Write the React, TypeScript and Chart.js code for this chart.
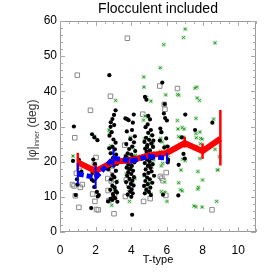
import { useEffect, useRef } from 'react';
import { Chart, registerables } from 'chart.js';

Chart.register(...registerables);

const chartTitle = 'Flocculent included';
const xAxisLabel = 'T-type';
const yLabelMain = '|φ|';
const yLabelSub = 'inner';
const yLabelUnit = ' (deg)';

const xTickValues = [0, 2, 4, 6, 8, 10];
const yTickValues = [0, 10, 20, 30, 40, 50, 60];

// black filled circles: [T-type, |phi|]
const filledPts: [number, number][] = [
  [0.78, 30.0], [0.73, 20.2], [0.88, 10.5], [1.06, 20.5], [1.15, 16.8], [0.95, 15.0], [1.2, 17.2], [0.98, 13.5],
  [1.8, 27.8], [1.93, 26.9], [2.1, 26.1], [1.75, 6.8], [1.87, 20.6], [1.96, 19.3], [1.82, 16.8], [1.88, 14.5],
  [1.92, 12.8], [2.07, 11.4], [2.12, 10.1], [2.18, 10.5], [1.78, 14.9], [2.05, 16.2],
  [2.77, 44.6], [3.12, 34.6], [3.03, 33.3], [2.94, 32.1], [2.85, 31.2], [3.04, 30.4], [2.84, 29.9], [2.9, 28.4],
  [2.78, 27.4], [3.12, 25.4], [3.0, 26.3], [2.95, 24.2], [3.08, 23.5], [2.84, 22.4], [3.15, 22.0], [2.97, 21.0],
  [3.1, 20.5], [2.88, 20.0], [3.2, 19.4], [2.79, 18.7], [3.02, 18.9], [2.7, 17.8], [3.14, 17.4], [2.94, 16.2],
  [3.05, 15.6], [2.86, 15.0], [3.18, 14.2], [2.94, 13.1], [3.07, 12.6], [2.82, 12.0], [3.13, 11.6], [2.97, 10.8],
  [3.2, 11.2], [2.84, 9.4], [2.7, 8.7], [2.94, 9.1], [3.1, 9.6], [3.0, 10.2], [3.22, 8.6], [2.76, 23.8],
  [3.67, 32.3], [3.76, 32.1], [3.85, 31.8], [4.14, 33.4], [4.09, 31.1], [4.04, 29.0], [4.2, 27.2], [3.95, 26.4],
  [4.15, 25.5], [3.72, 25.0], [4.05, 24.3], [3.88, 23.6], [4.22, 23.0], [3.8, 22.4], [4.0, 22.0], [3.7, 21.5],
  [4.12, 21.2], [3.92, 20.8], [3.78, 20.2], [4.18, 19.8], [3.84, 19.2], [4.03, 18.8], [3.74, 18.3], [3.96, 17.9],
  [4.1, 17.4], [3.83, 17.0], [4.0, 16.5], [3.77, 16.0], [4.15, 15.6], [3.9, 15.1], [4.06, 14.6], [3.71, 14.2],
  [3.98, 13.7], [4.13, 13.2], [3.86, 12.7], [4.02, 12.1], [3.94, 11.5], [4.08, 11.0], [3.8, 10.6], [4.0, 10.0],
  [4.05, 4.9], [3.88, 18.0], [3.75, 28.6],
  [4.77, 38.4], [4.85, 37.6], [5.05, 32.0], [4.92, 30.6], [4.8, 29.8], [5.1, 29.0], [4.95, 28.2], [5.18, 27.5],
  [4.83, 26.8], [5.0, 26.2], [4.74, 25.6], [5.12, 25.2], [4.9, 24.7], [5.22, 24.2], [4.78, 23.7], [5.05, 23.2],
  [4.86, 22.8], [5.25, 22.3], [4.97, 21.9], [4.72, 21.5], [5.15, 21.0], [4.88, 20.6], [5.02, 20.1], [4.76, 19.6],
  [5.2, 19.3], [4.93, 18.8], [5.08, 18.2], [4.81, 17.8], [5.14, 17.2], [4.96, 16.8], [4.74, 16.3], [5.28, 16.0],
  [4.89, 15.5], [5.04, 15.0], [4.79, 14.5], [5.18, 14.0], [4.92, 13.6], [4.72, 13.1], [5.07, 12.6], [4.84, 12.0],
  [4.99, 11.4], [4.76, 11.0], [5.1, 10.5], [4.88, 24.0], [5.0, 19.0], [4.82, 21.0], [5.24, 26.0], [4.95, 33.0],
  [5.74, 42.5], [5.87, 36.4], [5.83, 33.7], [5.9, 32.4], [6.0, 31.7], [5.63, 29.4], [5.69, 28.4], [5.96, 26.6],
  [6.07, 20.5], [6.05, 19.8], [5.78, 10.6], [5.6, 26.0], [5.92, 22.5], [5.7, 21.0], [5.85, 24.0], [6.04, 24.3],
  [7.03, 33.4], [6.84, 26.9], [6.79, 24.7], [6.93, 22.2], [7.0, 20.9], [6.66, 19.1], [6.64, 10.4],
  [7.58, 29.0], [8.55, 31.1],
];

// grey open squares
const openPts: [number, number][] = [
  [3.78, 55.1], [0.97, 44.6], [1.71, 34.6], [2.83, 38.6], [0.83, 26.8], [2.02, 21.2], [1.93, 19.2], [0.92, 16.7],
  [0.79, 13.1], [1.14, 12.7], [0.86, 10.3], [0.7, 13.5], [1.83, 10.8], [1.96, 8.7], [1.06, 7.0], [2.15, 6.3],
  [2.05, 6.4], [2.88, 14.5], [2.7, 11.8], [2.75, 9.0], [3.03, 5.2], [2.68, 15.2], [2.94, 17.5], [3.0, 13.7],
  [3.06, 10.6], [3.63, 24.7], [3.72, 21.4], [3.72, 14.8], [3.85, 13.7], [3.67, 10.1], [4.64, 33.5], [4.69, 8.7],
  [5.06, 9.5], [5.6, 41.5], [5.85, 36.3], [5.89, 34.9], [5.72, 15.3], [5.78, 14.6], [5.96, 16.9], [5.63, 15.8],
  [5.94, 10.4], [6.59, 40.8], [7.6, 24.0], [8.53, 6.3], [1.1, 17.5], [1.25, 13.5],
];

// green crosses
const crossPts: [number, number][] = [
  [7.03, 57.7], [6.93, 55.3], [5.82, 53.3], [8.7, 53.8], [5.63, 46.7], [4.7, 44.1], [4.71, 41.2], [4.86, 38.2],
  [5.1, 37.2], [5.93, 39.0], [6.6, 39.1], [6.66, 38.9], [7.58, 40.9], [7.67, 41.2], [7.7, 38.1], [7.83, 37.4],
  [3.12, 37.4], [4.69, 31.8], [4.95, 32.7], [4.77, 33.0], [5.1, 27.5], [1.94, 27.2], [2.79, 28.2], [2.75, 29.0],
  [3.95, 26.9], [0.73, 21.6], [2.9, 7.6], [2.95, 22.5], [3.1, 19.5], [3.2, 14.5], [3.05, 12.0], [2.85, 24.5],
  [3.86, 11.5], [4.12, 24.0], [3.78, 19.0], [4.2, 15.2], [3.9, 8.7], [4.1, 13.5], [3.72, 16.5], [4.24, 21.8],
  [5.2, 25.0], [4.8, 22.0], [5.15, 18.5], [4.72, 16.0], [5.05, 14.0], [4.9, 12.5], [5.25, 20.5], [4.75, 26.5],
  [5.1, 10.8], [7.63, 32.3], [6.59, 31.7], [6.62, 29.3], [6.86, 29.7], [6.97, 29.3], [7.85, 28.4], [8.62, 32.1],
  [6.66, 27.1], [6.79, 26.9], [6.95, 26.9], [7.65, 26.8], [7.89, 26.6], [5.69, 28.3], [5.65, 26.6], [7.63, 28.0],
  [7.98, 26.4], [7.88, 25.1], [8.7, 23.5], [5.74, 25.6], [5.89, 24.4], [5.63, 22.9], [5.72, 22.5], [6.07, 21.2],
  [6.88, 20.7], [7.03, 20.3], [7.85, 20.9], [6.79, 17.6], [7.74, 17.2], [8.86, 17.6], [8.0, 14.8], [5.87, 14.2],
  [6.66, 14.0], [6.77, 12.0], [6.86, 11.7], [7.77, 12.7], [7.73, 12.2], [5.69, 11.5], [5.9, 11.3], [6.0, 8.7],
  [7.52, 7.4], [7.63, 7.2], [7.98, 7.1], [8.79, 8.7], [5.76, 19.5], [5.69, 18.8], [8.95, 21.4], [8.84, 17.7],
];

// red median line with error bars
const redT = [1, 2, 3, 4, 5, 6, 7, 8, 9];
const redMed = [19.8, 17.3, 20.0, 20.4, 21.8, 22.5, 25.3, 23.0, 26.5];
const redLo = [17.5, 15.2, 18.8, 19.5, 21.0, 21.5, 24.0, 20.8, 18.9];
const redHi = [22.5, 19.0, 21.2, 21.3, 22.8, 23.5, 27.0, 25.2, 34.7];

// blue dashed line with error bars
const blueT = [1, 2, 3, 4, 5, 6];
const blueMed = [16.5, 15.5, 21.0, 20.2, 21.5, 21.0];
const blueLo = [13.5, 12.3, 18.3, 19.4, 20.7, 19.5];
const blueHi = [19.6, 18.8, 23.5, 21.0, 22.3, 22.5];

const FONT = "'Liberation Sans', Arial, Helvetica, sans-serif";

const toXY = (arr: [number, number][]) => arr.map(([x, y]) => ({ x, y }));

const decor = {
  id: 'decor',
  afterDatasetDraw(chart: any, args: any) {
    const ds = chart.data.datasets[args.index];
    if (!ds.errLo) return;
    const { ctx, scales } = chart;
    const xs = scales.x;
    const ys = scales.y;
    ctx.save();
    ctx.beginPath();
    ctx.rect(chart.chartArea.left, chart.chartArea.top, chart.chartArea.right - chart.chartArea.left, chart.chartArea.bottom - chart.chartArea.top);
    ctx.clip();
    ctx.strokeStyle = ds.borderColor;
    ctx.lineWidth = ds.errWidth;
    ctx.setLineDash([]);
    ds.data.forEach((p: any, i: number) => {
      const px = xs.getPixelForValue(p.x);
      ctx.beginPath();
      ctx.moveTo(px, ys.getPixelForValue(ds.errLo[i]));
      ctx.lineTo(px, ys.getPixelForValue(ds.errHi[i]));
      ctx.stroke();
    });
    ctx.restore();
  },
  afterDraw(chart: any) {
    const { ctx, chartArea: a, scales } = chart;
    const xs = scales.x;
    const ys = scales.y;
    ctx.save();
    // frame
    ctx.strokeStyle = '#9a9a9a';
    ctx.lineWidth = 1;
    ctx.strokeRect(a.left + 0.5, a.top + 0.5, a.right - a.left - 1, a.bottom - a.top - 1);
    // ticks
    ctx.strokeStyle = '#aaaaaa';
    const tick = (x1: number, y1: number, x2: number, y2: number) => {
      ctx.beginPath();
      ctx.moveTo(x1, y1);
      ctx.lineTo(x2, y2);
      ctx.stroke();
    };
    for (let v = 0; v <= 11.0001; v += 0.5) {
      const px = Math.round(xs.getPixelForValue(v)) + 0.5;
      const len = Math.abs(v % 2) < 1e-6 ? 5 : 3;
      tick(px, a.bottom, px, a.bottom - len);
      tick(px, a.top, px, a.top + len);
    }
    for (let v = 0; v <= 60.0001; v += 2) {
      const py = Math.round(ys.getPixelForValue(v)) + 0.5;
      const len = Math.abs(v % 10) < 1e-6 ? 5 : 3;
      tick(a.left, py, a.left + len, py);
      tick(a.right, py, a.right - len, py);
    }
    // title
    ctx.fillStyle = '#000';
    ctx.textAlign = 'center';
    ctx.textBaseline = 'alphabetic';
    ctx.font = `14px ${FONT}`;
    ctx.fillText(chartTitle, (a.left + a.right) / 2, 13);
    // x label
    ctx.font = `11px ${FONT}`;
    ctx.fillText(xAxisLabel, (a.left + a.right) / 2, 263);
    // y label (rotated, with subscript)
    ctx.translate(36, 130);
    ctx.rotate(-Math.PI / 2);
    ctx.fillStyle = '#333';
    const fMain = `12px ${FONT}`;
    const fSub = `7px ${FONT}`;
    ctx.font = fMain;
    const w1 = ctx.measureText(yLabelMain).width;
    const w3 = ctx.measureText(yLabelUnit).width;
    ctx.font = fSub;
    const w2 = ctx.measureText(yLabelSub).width;
    let x0 = -(w1 + w2 + w3) / 2;
    ctx.textAlign = 'left';
    ctx.font = fMain;
    ctx.fillText(yLabelMain, x0, 0);
    x0 += w1;
    ctx.font = fSub;
    ctx.fillText(yLabelSub, x0, 2.5);
    x0 += w2;
    ctx.font = fMain;
    ctx.fillText(yLabelUnit, x0, 0);
    ctx.restore();
  },
};

export default function App() {
  const ref = useRef<HTMLCanvasElement | null>(null);
  useEffect(() => {
    if (!ref.current) return;
    const chart = new Chart(ref.current, {
      type: 'scatter',
      data: {
        datasets: [
          {
            label: 'blue',
            data: blueT.map((x, i) => ({ x, y: blueMed[i] })),
            showLine: true,
            borderColor: '#0000ff',
            backgroundColor: '#0000ff',
            borderWidth: 5,
            borderDash: [6, 3],
            pointRadius: 0,
            order: 0,
            errLo: blueLo,
            errHi: blueHi,
            errWidth: 2,
          } as any,
          {
            label: 'red',
            data: redT.map((x, i) => ({ x, y: redMed[i] })),
            showLine: true,
            borderColor: '#ff0000',
            backgroundColor: '#ff0000',
            borderWidth: 6,
            pointRadius: 0,
            order: 1,
            errLo: redLo,
            errHi: redHi,
            errWidth: 2.5,
          } as any,
          {
            label: 'filled',
            data: toXY(filledPts),
            pointStyle: 'circle',
            pointRadius: 2.1,
            backgroundColor: '#000',
            borderWidth: 0,
            order: 2,
          },
          {
            label: 'cross',
            data: toXY(crossPts),
            pointStyle: 'crossRot',
            pointRadius: 1.8,
            borderColor: '#2f9a2f',
            borderWidth: 1,
            order: 3,
          },
          {
            label: 'crossBg',
            data: toXY(crossPts),
            pointStyle: 'rect',
            pointRadius: 3,
            backgroundColor: '#c4e6c4',
            borderWidth: 0,
            order: 4,
          },
          {
            label: 'open',
            data: toXY(openPts),
            pointStyle: 'rect',
            pointRadius: 3.2,
            backgroundColor: 'rgba(255,255,255,0)',
            borderColor: '#8a8a8a',
            borderWidth: 1,
            order: 5,
          },
        ],
      },
      options: {
        animation: false,
        responsive: false,
        devicePixelRatio: 1,
        layout: { padding: { top: 21, right: 18, left: 0, bottom: 0 } },
        plugins: { legend: { display: false }, tooltip: { enabled: false }, title: { display: false } },
        elements: { line: { tension: 0, borderJoinStyle: 'miter' } },
        scales: {
          x: {
            type: 'linear',
            min: 0,
            max: 11,
            grid: { display: false, drawTicks: false },
            border: { display: false },
            ticks: { color: '#000', font: { size: 12, family: FONT }, padding: 11, maxRotation: 0 },
            afterBuildTicks: (s: any) => { s.ticks = xTickValues.map((v) => ({ value: v })); },
            afterFit: (s: any) => { s.height = 42; },
          },
          y: {
            type: 'linear',
            min: 0,
            max: 60,
            grid: { display: false, drawTicks: false },
            border: { display: false },
            ticks: { color: '#000', font: { size: 12, family: FONT }, padding: 3 },
            afterBuildTicks: (s: any) => { s.ticks = yTickValues.map((v) => ({ value: v })); },
            afterFit: (s: any) => { s.width = 60; },
          },
        },
      },
      plugins: [decor],
    });
    return () => chart.destroy();
  }, []);
  return (
    <div style={{ position: 'absolute', left: 0, top: 0, width: 274, height: 274, background: '#fff' }}>
      <canvas ref={ref} width={274} height={274} style={{ display: 'block' }} />
    </div>
  );
}
